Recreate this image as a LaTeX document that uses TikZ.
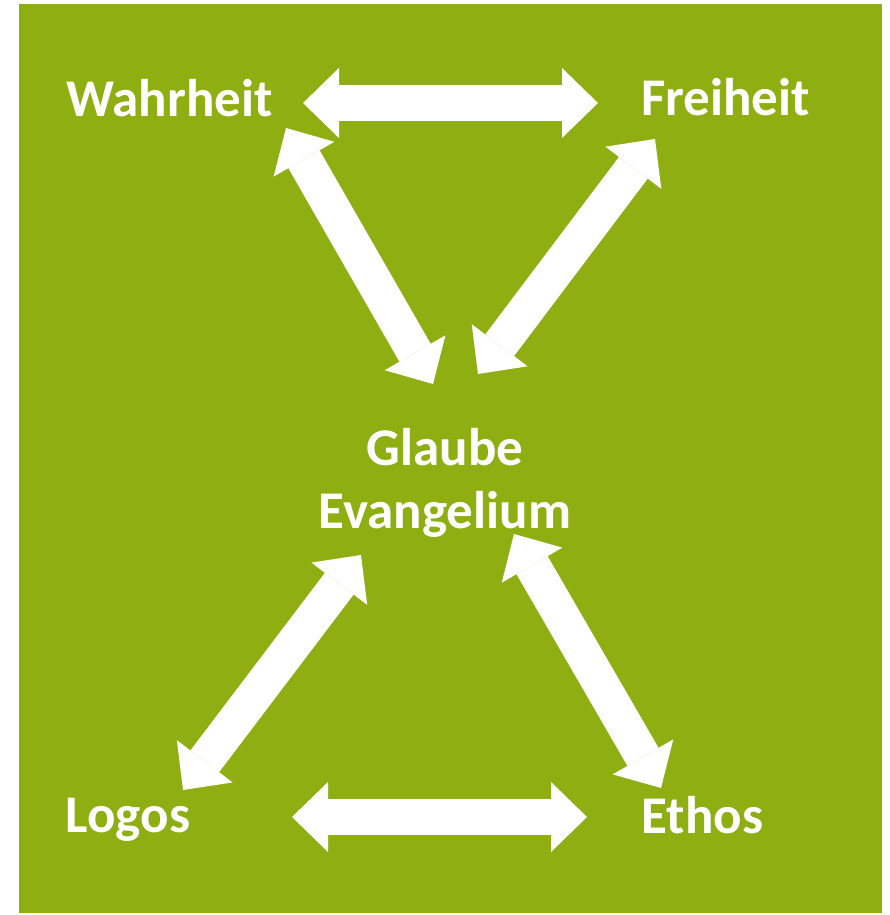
\documentclass[tikz,border=0pt]{standalone}
\usepackage{fontspec}
\setmainfont{Carlito}
\usetikzlibrary{arrows.meta}
\definecolor{bggreen}{HTML}{8EAE12}
\tikzset{
  lbl/.style={text=white, font=\bfseries\fontsize{53}{63}\selectfont, inner sep=0pt, anchor=base, align=center},
  bigarrow/.style={draw=white, line width=36pt, line cap=butt,
    {Triangle[length=36pt,width=70pt,line width=0pt]}-{Triangle[length=36pt,width=70pt,line width=0pt]}}
}
\begin{document}
\begin{tikzpicture}[x=1pt,y=-1pt]
\useasboundingbox (0,0) rectangle (889,915);
\fill[bggreen] (19,4) rectangle (882,913);
\node[lbl] (wahr) at (169.5,117) {Wahrheit};
\node[lbl] (frei) at (725.5,116) {Freiheit};
\node[lbl] (logos) at (128,832) {Logos};
\node[lbl] (ethos) at (702.5,833) {Ethos};
\node[lbl] (glaube) at (445,528) {Glaube\\Evangelium};
\coordinate (tA) at (303,103); \coordinate (tB) at (598,103);
\coordinate (lA) at (286,128); \coordinate (lB) at (433,384);
\coordinate (rA) at (655,139); \coordinate (rB) at (478,374);
\coordinate (blA) at (361,555); \coordinate (blB) at (183,790);
\coordinate (brA) at (514,534); \coordinate (brB) at (661,788);
\coordinate (bA) at (292,817); \coordinate (bB) at (587,817);
\draw[bigarrow] (tA) -- (tB);
\draw[bigarrow] (lA) -- (lB);
\draw[bigarrow] (rA) -- (rB);
\draw[bigarrow] (blA) -- (blB);
\draw[bigarrow] (brA) -- (brB);
\draw[bigarrow] (bA) -- (bB);
\end{tikzpicture}
\end{document}
